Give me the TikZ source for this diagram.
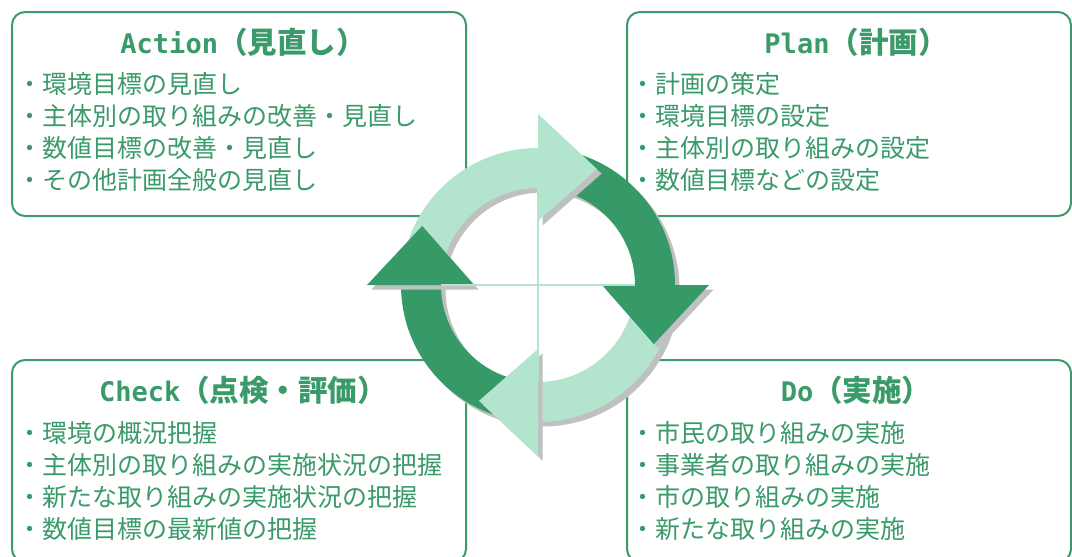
\documentclass[tikz,border=0pt]{standalone}
\usepackage{fontspec}
\newfontfamily\jp{Noto Sans CJK JP}
\newfontfamily\lat{DejaVu Sans Mono}
\definecolor{dk}{HTML}{359A68}
\definecolor{lt}{HTML}{B3E4CE}
\definecolor{sh}{HTML}{C0C0C0}
\definecolor{tx}{HTML}{3A9A6A}
\tikzset{
  box/.style={draw=tx, line width=2pt, rounded corners=13pt, fill=white, inner sep=0pt},
  ttl/.style={text=tx, anchor=base, inner sep=0pt},
  itm/.style={text=tx, anchor=base west, inner sep=0pt, font=\jp\fontsize{25}{30}\selectfont},
  cross/.style={draw=lt, line width=1.5pt}
}
\newcommand\ttltext[2]{{\lat\bfseries\fontsize{27}{30}\selectfont #1}{\jp\bfseries\fontsize{29.5}{30}\selectfont #2}}
\begin{document}
\begin{tikzpicture}[x=1pt,y=-1pt]
\useasboundingbox (0,0) rectangle (1072,557);
\fill[white] (0,0) rectangle (1072,557);
% boxes
\node[box, minimum width=454pt, minimum height=204pt] (act) at (239,114) {};
\node[box, minimum width=444pt, minimum height=204pt] (pln) at (849,114) {};
\node[box, minimum width=454pt, minimum height=202pt] (chk) at (239,461) {};
\node[box, minimum width=444pt, minimum height=202pt] (doo) at (849,461) {};
% titles
\node[ttl] (actT) at (243,53) {\ttltext{Action}{（見直し）}};
\node[ttl] (plnT) at (856,53) {\ttltext{Plan}{（計画）}};
\node[ttl] (chkT) at (243,401) {\ttltext{Check}{（点検・評価）}};
\node[ttl] (dooT) at (856,401) {\ttltext{Do}{（実施）}};
% items
\foreach \t [count=\i] in {環境目標の見直し,主体別の取り組みの改善・見直し,数値目標の改善・見直し,その他計画全般の見直し}
  \node[itm] (act\i) at (17.5,{93.5+32*(\i-1)}) {・\t};
\foreach \t [count=\i] in {計画の策定,環境目標の設定,主体別の取り組みの設定,数値目標などの設定}
  \node[itm] (pln\i) at (630.5,{93.5+32*(\i-1)}) {・\t};
\foreach \t [count=\i] in {環境の概況把握,主体別の取り組みの実施状況の把握,新たな取り組みの実施状況の把握,数値目標の最新値の把握}
  \node[itm] (chk\i) at (17.5,{442+32*(\i-1)}) {・\t};
\foreach \t [count=\i] in {市民の取り組みの実施,事業者の取り組みの実施,市の取り組みの実施,新たな取り組みの実施}
  \node[itm] (doo\i) at (630.5,{442+32*(\i-1)}) {・\t};
% cycle
\begin{scope}[shift={(538,285)}, yscale=-1]
  \begin{scope}[shift={(4.5,-4.5)}]
    \foreach \b in {90,0,-90,180}
      \fill[sh] ({\b+90}:137) arc[start angle=\b+90, end angle=\b, radius=137]
        -- (\b:97) arc[start angle=\b, end angle=\b+90, radius=97] -- cycle;
  \end{scope}
  \foreach \b/\c in {90/lt,0/dk,-90/lt,180/dk}
    \fill[\c] ({\b+90}:137) arc[start angle=\b+90, end angle=\b, radius=137]
      -- (\b:97) arc[start angle=\b, end angle=\b+90, radius=97] -- cycle;
  \begin{scope}[shift={(4.5,-4.5)}]
    \foreach \b in {90,0,-90,180}
      \fill[sh] (\b:64) -- (\b:171) -- ({\b-27}:130) -- cycle;
  \end{scope}
  \foreach \b/\c in {90/lt,0/dk,-90/lt,180/dk}
    \fill[\c] (\b:64) -- (\b:171) -- ({\b-27}:130) -- cycle;
  \draw[cross] (180:97) -- (0:97);
  \draw[cross] (90:97) -- (-90:97);
\end{scope}
\end{tikzpicture}
\end{document}
